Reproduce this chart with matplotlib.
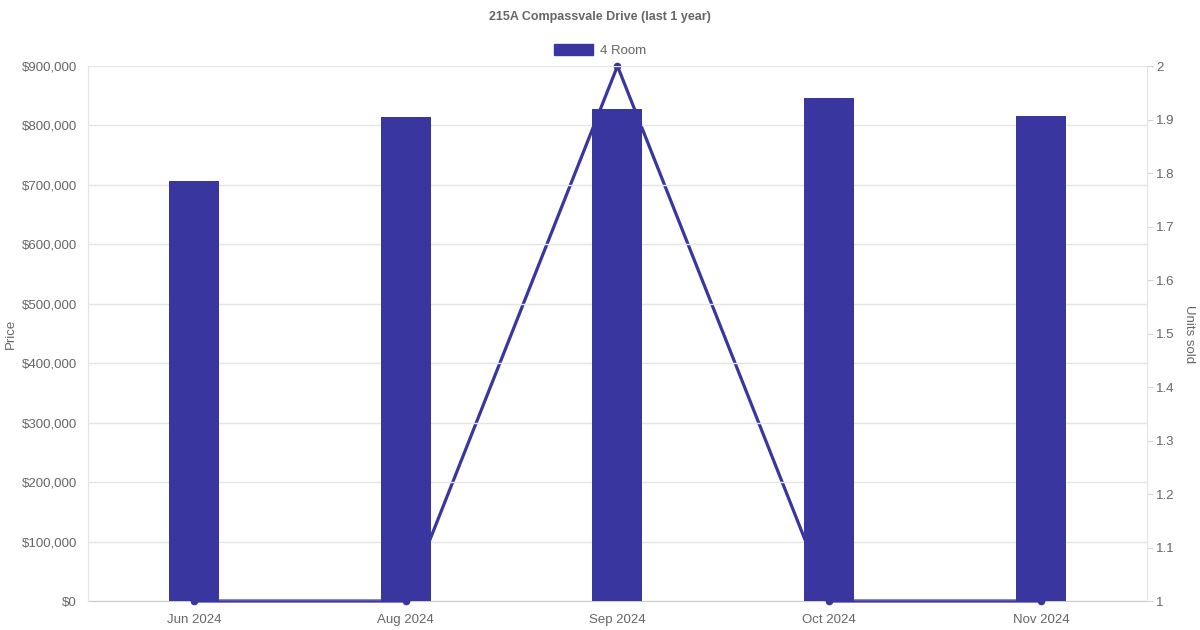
import matplotlib.pyplot as plt
import numpy as np

months = ['Jun 2024', 'Aug 2024', 'Sep 2024', 'Oct 2024', 'Nov 2024']
prices = [706000, 814000, 828000, 846000, 816000]
units_sold = [1, 1, 2, 1, 1]

plt.rcParams['font.family'] = ['Liberation Sans', 'DejaVu Sans']
bar_color = '#3a36a0'
text_color = '#666666'
grid_color = '#e5e5e5'

fig = plt.figure(figsize=(12, 6.3), dpi=100)
ax = fig.add_axes([0.0733, 0.046, 0.8825, 0.8492])
ax2 = ax.twinx()

x = np.arange(len(months))

# line behind bars
ax2.plot(x, units_sold, color=bar_color, linewidth=2.3, marker='o', markersize=4.5,
         zorder=3, clip_on=False)
ax.bar(x, prices, width=0.236, color=bar_color, zorder=3, label='4 Room')

ax.set_zorder(ax2.get_zorder() + 1)
ax.patch.set_visible(False)

ax.set_xlim(-0.5, len(months) - 0.5)
ax.set_ylim(0, 900000)
ax.set_yticks(np.arange(0, 900001, 100000))
ax.set_yticklabels(['${:,.0f}'.format(v) for v in np.arange(0, 900001, 100000)])
ax.set_xticks(x)
ax.set_xticklabels(months)
ax.grid(axis='y', color=grid_color, linewidth=1, zorder=0)
ax.tick_params(axis='y', length=0, pad=8, labelsize=9.5, colors=text_color)
ax.tick_params(axis='x', length=0, pad=9, labelsize=9.5, colors=text_color)

ax2.set_ylim(1, 2)
ax2.set_yticks(np.round(np.arange(1, 2.01, 0.1), 1))
ax2.set_yticklabels(['1', '1.1', '1.2', '1.3', '1.4', '1.5', '1.6', '1.7', '1.8', '1.9', '2'])
ax2.tick_params(axis='y', length=4.5, color='#d5d5d5', pad=2, labelsize=9.5, labelcolor=text_color)

for a in (ax, ax2):
    a.spines['top'].set_visible(False)
    a.spines['left'].set_color(grid_color)
    a.spines['right'].set_color(grid_color)
ax.spines['bottom'].set_visible(False)
ax2.spines['bottom'].set_color('#cccccc')

fig.text(0.009, 0.47, 'Price', rotation=90, ha='center', va='center',
         color=text_color, fontsize=9.5)
fig.text(0.991, 0.47, 'Units sold', rotation=270, ha='center', va='center',
         color=text_color, fontsize=9.5)

fig.text(0.5, 0.973, '215A Compassvale Drive (last 1 year)', ha='center', va='center',
         fontsize=9, fontweight='bold', color=text_color)

fig.legend(handles=[plt.Rectangle((0, 0), 1, 1, color=bar_color)], labels=['4 Room'],
           loc='center', bbox_to_anchor=(0.5, 0.92), frameon=False, fontsize=9.5,
           labelcolor=text_color, handlelength=3.0, handleheight=0.85, handletextpad=0.5)

fig.savefig('out.png', dpi=100)
